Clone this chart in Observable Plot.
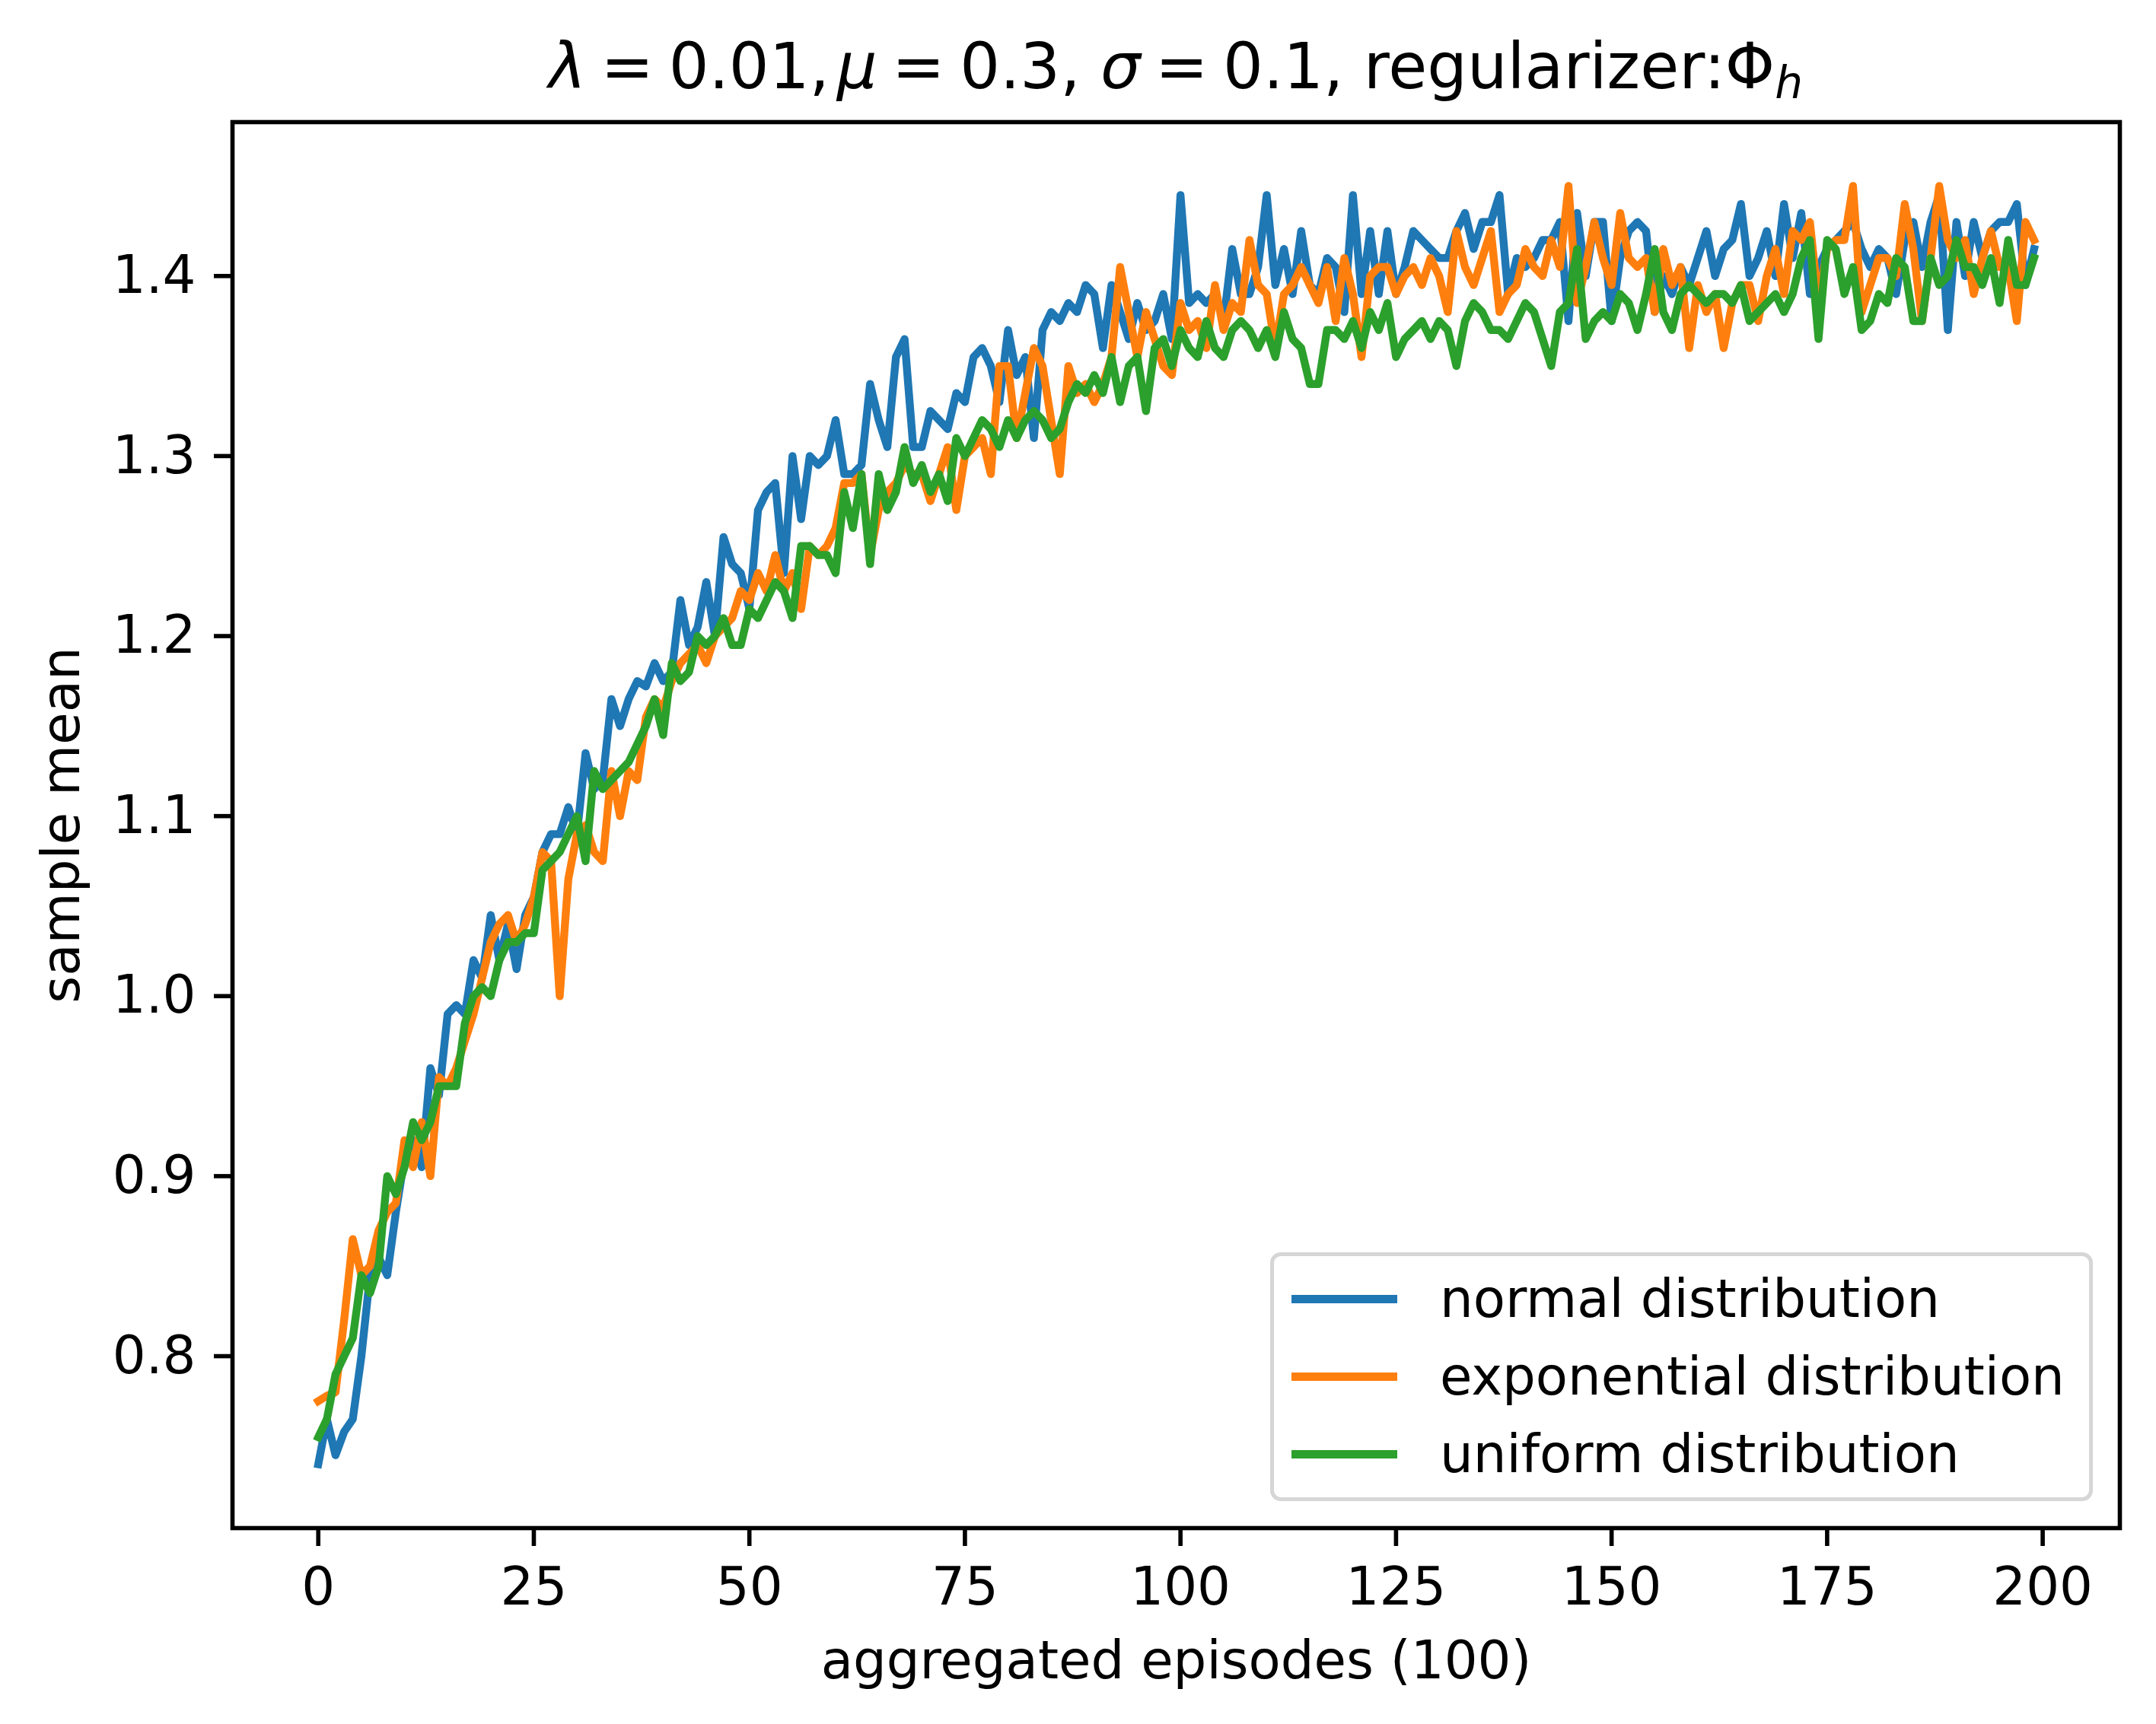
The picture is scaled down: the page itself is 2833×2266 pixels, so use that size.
<!DOCTYPE html>
<html>
<head>
<meta charset="utf-8">
<script src="https://cdn.jsdelivr.net/npm/d3@7"></script>
<script src="https://cdn.jsdelivr.net/npm/@observablehq/plot@0.6"></script>
<style>
html, body { margin: 0; padding: 0; background: #fff; }
#wrap { position: relative; width: 2833px; height: 2266px; font-family: "DejaVu Sans", sans-serif; color: #000; background: #fff; }
#title { position: absolute; left: 305px; width: 2480px; top: 46px; text-align: center; font-size: 83px; line-height: 1; white-space: nowrap; }
#title i { font-style: italic; }
#title .rel { margin: 0 0.235em; }
#title .thin { margin-right: 0.12em; }
#title sub { font-size: 70%; vertical-align: -0.22em; line-height: 0; }
#chart { position: absolute; left: 0; top: 150px; }
#legend { position: absolute; left: 1669px; top: 1646px; width: 1081px; height: 327px; box-sizing: border-box;
  border: 5px solid #d6d6d6; border-radius: 14px; background: rgba(255,255,255,0.8); }
.row { position: absolute; left: 23px; height: 67px; display: flex; align-items: center; }
.handle { width: 139px; height: 10.4px; }
.lab { margin-left: 56px; font-size: 69px; line-height: 67px; white-space: nowrap; }
</style>
</head>
<body>
<div id="wrap">
  <div id="title"><i>λ</i><span class="rel">=</span>0.01,<span class="thin"></span><i>μ</i><span class="rel">=</span>0.3, <i>σ</i><span class="rel">=</span>0.1, regularizer:Φ<sub><i>h</i></sub></div>
  <div id="chart"></div>
  <div id="legend"></div>
</div>
<script>
const seriesNames = ["normal distribution", "exponential distribution", "uniform distribution"];
const seriesColors = ["#1f77b4", "#ff7f0e", "#2ca02c"];
const xTicks = [0, 25, 50, 75, 100, 125, 150, 175, 200];
const yTicks = [0.8, 0.9, 1.0, 1.1, 1.2, 1.3, 1.4];
const xLabel = "aggregated episodes (100)";
const yLabel = "sample mean";

const normal = [
0.740,0.765,0.745,0.758,0.765,0.800,0.845,0.855,0.845,0.880,
0.910,0.920,0.905,0.960,0.945,0.990,0.995,0.990,1.020,1.010,
1.045,1.020,1.040,1.015,1.045,1.055,1.080,1.090,1.090,1.105,
1.090,1.135,1.115,1.120,1.165,1.150,1.165,1.175,1.172,1.185,
1.175,1.180,1.220,1.195,1.205,1.230,1.200,1.255,1.240,1.235,
1.215,1.270,1.280,1.285,1.235,1.300,1.265,1.300,1.295,1.300,
1.320,1.290,1.290,1.295,1.340,1.320,1.305,1.355,1.365,1.305,
1.305,1.325,1.320,1.315,1.335,1.330,1.355,1.360,1.350,1.330,
1.370,1.345,1.355,1.310,1.370,1.380,1.375,1.385,1.380,1.395,
1.390,1.360,1.395,1.380,1.365,1.385,1.370,1.375,1.390,1.365,
1.445,1.385,1.390,1.385,1.390,1.375,1.415,1.390,1.390,1.405,
1.445,1.395,1.415,1.390,1.425,1.395,1.390,1.410,1.405,1.380,
1.445,1.390,1.425,1.390,1.425,1.390,1.405,1.425,1.420,1.415,
1.410,1.410,1.425,1.435,1.415,1.430,1.430,1.445,1.390,1.410,
1.405,1.410,1.420,1.420,1.430,1.375,1.435,1.400,1.430,1.430,
1.375,1.410,1.425,1.430,1.425,1.380,1.400,1.390,1.405,1.395,
1.410,1.425,1.400,1.415,1.420,1.440,1.400,1.410,1.425,1.400,
1.440,1.410,1.435,1.390,1.405,1.415,1.420,1.425,1.430,1.415,
1.405,1.415,1.410,1.390,1.420,1.430,1.405,1.430,1.445,1.370,
1.430,1.400,1.430,1.410,1.425,1.430,1.430,1.440,1.395,1.415
];
const exponential = [
0.775,0.778,0.780,0.820,0.865,0.845,0.850,0.870,0.880,0.885,
0.920,0.905,0.930,0.900,0.955,0.950,0.960,0.975,0.990,1.010,
1.030,1.040,1.045,1.030,1.040,1.055,1.080,1.075,1.000,1.065,
1.090,1.095,1.080,1.075,1.125,1.100,1.125,1.120,1.155,1.165,
1.160,1.175,1.185,1.190,1.195,1.185,1.200,1.205,1.210,1.225,
1.220,1.235,1.225,1.245,1.225,1.235,1.215,1.250,1.245,1.250,
1.260,1.285,1.285,1.290,1.245,1.270,1.280,1.285,1.295,1.290,
1.290,1.275,1.290,1.305,1.270,1.300,1.305,1.310,1.290,1.350,
1.350,1.310,1.335,1.360,1.350,1.320,1.290,1.350,1.335,1.340,
1.330,1.340,1.355,1.405,1.380,1.355,1.380,1.365,1.350,1.345,
1.385,1.370,1.375,1.360,1.395,1.370,1.385,1.380,1.420,1.395,
1.390,1.360,1.390,1.395,1.405,1.395,1.385,1.405,1.375,1.410,
1.390,1.355,1.400,1.405,1.405,1.390,1.400,1.405,1.395,1.410,
1.400,1.380,1.425,1.405,1.395,1.410,1.425,1.380,1.390,1.395,
1.415,1.405,1.400,1.420,1.405,1.450,1.385,1.405,1.430,1.410,
1.395,1.435,1.410,1.405,1.410,1.380,1.415,1.395,1.405,1.360,
1.395,1.380,1.390,1.360,1.385,1.395,1.395,1.375,1.400,1.415,
1.390,1.425,1.420,1.430,1.385,1.415,1.420,1.420,1.450,1.380,
1.395,1.410,1.410,1.400,1.440,1.415,1.375,1.410,1.450,1.420,
1.410,1.420,1.390,1.410,1.425,1.405,1.405,1.375,1.430,1.420
];
const uniform = [
0.755,0.765,0.790,0.800,0.810,0.845,0.835,0.850,0.900,0.890,
0.905,0.930,0.920,0.930,0.950,0.950,0.950,0.985,1.000,1.005,
1.000,1.020,1.030,1.030,1.035,1.035,1.070,1.075,1.080,1.090,
1.100,1.075,1.125,1.115,1.120,1.125,1.130,1.140,1.150,1.165,
1.145,1.185,1.175,1.180,1.200,1.195,1.200,1.210,1.195,1.195,
1.215,1.210,1.220,1.230,1.225,1.210,1.250,1.250,1.245,1.245,
1.235,1.280,1.260,1.290,1.240,1.290,1.270,1.280,1.305,1.285,
1.295,1.280,1.290,1.275,1.310,1.300,1.310,1.320,1.315,1.305,
1.320,1.310,1.320,1.325,1.320,1.310,1.315,1.330,1.340,1.335,
1.345,1.335,1.355,1.330,1.350,1.355,1.325,1.360,1.365,1.350,
1.370,1.360,1.355,1.375,1.360,1.355,1.370,1.375,1.370,1.360,
1.370,1.355,1.380,1.365,1.360,1.340,1.340,1.370,1.370,1.365,
1.375,1.360,1.380,1.370,1.385,1.355,1.365,1.370,1.375,1.365,
1.375,1.370,1.350,1.375,1.385,1.380,1.370,1.370,1.365,1.375,
1.385,1.380,1.365,1.350,1.380,1.385,1.415,1.365,1.375,1.380,
1.375,1.390,1.385,1.370,1.390,1.415,1.380,1.370,1.390,1.395,
1.390,1.385,1.390,1.390,1.385,1.395,1.375,1.380,1.385,1.390,
1.380,1.390,1.410,1.420,1.365,1.420,1.415,1.390,1.405,1.370,
1.375,1.390,1.385,1.410,1.405,1.375,1.375,1.410,1.395,1.400,
1.420,1.405,1.405,1.395,1.410,1.385,1.420,1.395,1.395,1.410
];

const seriesValues = [normal, exponential, uniform];
const rows = [];
seriesValues.forEach((vals, s) => vals.forEach((v, i) => rows.push({episode: i, value: v, series: seriesNames[s]})));

// matplotlib-style 5% margins around the data range
const [xmin, xmax] = d3.extent(rows, d => d.episode);
const [ymin, ymax] = d3.extent(rows, d => d.value);
const xpad = (xmax - xmin) * 0.05, ypad = (ymax - ymin) * 0.05;

const chart = Plot.plot({
  width: 2833,
  height: 2116,
  marginLeft: 305,
  marginRight: 48,
  marginTop: 10,
  marginBottom: 258,
  style: {fontFamily: "DejaVu Sans, sans-serif", fontSize: "69px", background: "white", color: "black", overflow: "visible"},
  x: {domain: [xmin - xpad, xmax + xpad]},
  y: {domain: [ymin - ypad, ymax + ypad]},
  color: {domain: seriesNames, range: seriesColors},
  marks: [
    Plot.line(rows, {x: "episode", y: "value", z: "series", stroke: "series", strokeWidth: 10.4, strokeLinejoin: "round", strokeLinecap: "square"}),
    Plot.frame({stroke: "black", strokeWidth: 5.6}),
    Plot.axisX(xTicks, {tickSize: 24, tickPadding: 27, strokeWidth: 5.6, fontSize: 69, label: null, tickFormat: d => String(d)}),
    Plot.axisY(yTicks, {tickSize: 24, tickPadding: 24, strokeWidth: 5.6, fontSize: 69, label: null, tickFormat: d3.format(".1f")}),
    Plot.text([xLabel], {text: d => d, frameAnchor: "bottom", textAnchor: "middle", lineAnchor: "bottom", dy: 197, fontSize: 69, fill: "black"}),
    Plot.text([yLabel], {text: d => d, frameAnchor: "left", textAnchor: "middle", rotate: -90, lineAnchor: "bottom", dx: -202, fontSize: 69, fill: "black"})
  ]
});
document.getElementById("chart").appendChild(chart);

const legend = document.getElementById("legend");
seriesNames.forEach((name, i) => {
  const row = document.createElement("div");
  row.className = "row";
  row.style.top = (23 + i * 102) + "px";
  const h = document.createElement("div");
  h.className = "handle";
  h.style.background = seriesColors[i];
  const t = document.createElement("div");
  t.className = "lab";
  t.textContent = name;
  row.appendChild(h);
  row.appendChild(t);
  legend.appendChild(row);
});
</script>
</body>
</html>
